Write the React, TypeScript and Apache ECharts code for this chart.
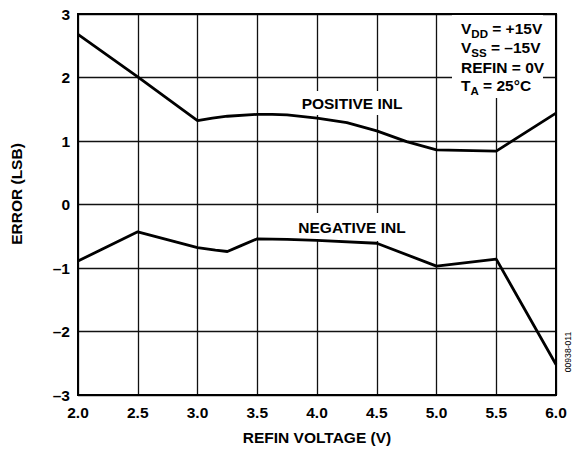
import React, { useEffect, useRef } from "react";
import * as echarts from "echarts";

const FONT = "Arial, 'Liberation Sans', Helvetica, sans-serif";

const xTicks = [2.0, 2.5, 3.0, 3.5, 4.0, 4.5, 5.0, 5.5, 6.0];
const yTicks = [-3, -2, -1, 0, 1, 2, 3];

const positiveX = [2.0, 2.5, 3.0, 3.125, 3.25, 3.5, 3.625, 3.75, 4.0, 4.25, 4.5, 4.75, 5.0, 5.5, 6.0];
const positiveInl = [2.68, 2.01, 1.32, 1.36, 1.39, 1.42, 1.42, 1.41, 1.36, 1.29, 1.16, 0.99, 0.86, 0.84, 1.44];

const negativeX = [2.0, 2.5, 3.0, 3.15, 3.25, 3.35, 3.5, 3.75, 4.0, 4.5, 5.0, 5.5, 6.0];
const negativeInl = [-0.89, -0.43, -0.68, -0.72, -0.74, -0.66, -0.54, -0.55, -0.565, -0.61, -0.97, -0.86, -2.52];

const seriesNames = ["POSITIVE INL", "NEGATIVE INL"];
const conditionLines = [
  ["V", "DD", " = +15V"],
  ["V", "SS", " = \u201315V"],
  ["REFIN = 0V", "", ""],
  ["T", "A", " = 25\u00B0C"],
];

const MAIN_SIZE = 15.5;
const SUB_SIZE = 11.5;

export default function App() {
  const ref = useRef<HTMLDivElement>(null);
  useEffect(() => {
    if (!ref.current) return;
    const chart = echarts.init(ref.current, undefined, { renderer: "svg" });

    const ctx = document.createElement("canvas").getContext("2d");
    const measure = (t: string, size: number) => {
      if (!ctx) return t.length * size * 0.6;
      ctx.font = `bold ${size}px ${FONT}`;
      return ctx.measureText(t).width;
    };

    const legendX = 461;
    const mainMid = [28.7, 47.8, 67.7, 85];
    const subShift = 5.6;
    const legendEls: any[] = [];
    conditionLines.forEach(([a, b, c], i) => {
      let x = legendX;
      const y = mainMid[i];
      const pieces: [string, number, number][] = [
        [a, MAIN_SIZE, 0],
        [b, SUB_SIZE, subShift],
        [c, MAIN_SIZE, 0],
      ];
      pieces.forEach(([t, size, dy]) => {
        if (!t) return;
        legendEls.push({
          type: "text",
          z: 1,
          x,
          y: y + dy,
          style: {
            text: t,
            fontFamily: FONT,
            fontWeight: "bold",
            fontSize: size,
            fill: "#000",
            align: "left",
            verticalAlign: "middle",
          },
        });
        x += measure(t, size);
      });
    });

    chart.setOption({
      animation: false,
      backgroundColor: "#fff",
      grid: {
        left: 78,
        right: 28,
        top: 14,
        bottom: 54,
        show: true,
        borderColor: "#000",
        borderWidth: 2,
        backgroundColor: "transparent",
        z: 3,
      },
      xAxis: {
        type: "value",
        min: 2,
        max: 6,
        interval: 0.5,
        name: "REFIN VOLTAGE (V)",
        nameLocation: "middle",
        nameGap: 42,
        nameTextStyle: {
          fontFamily: FONT,
          fontWeight: "bold",
          fontSize: 15.5,
          color: "#000",
          verticalAlign: "middle",
        },
        axisLine: { show: false },
        axisTick: { show: false },
        axisLabel: {
          margin: 9,
          fontFamily: FONT,
          fontWeight: "bold",
          fontSize: 15.5,
          color: "#000",
          formatter: (v: number) => v.toFixed(1),
        },
        splitLine: { show: true, lineStyle: { color: "#111", width: 1.3 } },
      },
      yAxis: {
        type: "value",
        min: -3,
        max: 3,
        interval: 1,
        axisLine: { show: false },
        axisTick: { show: false },
        axisLabel: {
          margin: 8,
          fontFamily: FONT,
          fontWeight: "bold",
          fontSize: 15.5,
          color: "#000",
          formatter: (v: number) => (v < 0 ? "\u2013" + Math.abs(v) : String(v)),
        },
        splitLine: { show: true, lineStyle: { color: "#111", width: 1.3 } },
      },
      graphic: [
        {
          type: "rect",
          z: 1,
          shape: { x: 452, y: 15, width: 91, height: 83 },
          style: { fill: "#fff" },
        },
        ...legendEls,
        {
          type: "text",
          z: 1,
          x: 352,
          y: 103,
          style: {
            text: seriesNames[0],
            fontFamily: FONT,
            fontWeight: "bold",
            fontSize: 15.5,
            fill: "#000",
            align: "center",
            verticalAlign: "middle",
            backgroundColor: "#fff",
            padding: [4, 3],
          },
        },
        {
          type: "text",
          z: 1,
          x: 352,
          y: 227,
          style: {
            text: seriesNames[1],
            fontFamily: FONT,
            fontWeight: "bold",
            fontSize: 15.5,
            fill: "#000",
            align: "center",
            verticalAlign: "middle",
            backgroundColor: "#fff",
            padding: [6, 3],
          },
        },
        {
          type: "text",
          z: 1,
          x: 16.5,
          y: 194,
          rotation: Math.PI / 2,
          style: {
            text: "ERROR (LSB)",
            fontFamily: FONT,
            fontWeight: "bold",
            fontSize: 15.5,
            fill: "#000",
            align: "center",
            verticalAlign: "middle",
          },
        },
        {
          type: "text",
          z: 1,
          x: 568,
          y: 352,
          rotation: Math.PI / 2,
          style: {
            text: "00938-011",
            fontFamily: FONT,
            fontSize: 8.6,
            fill: "#000",
            align: "center",
            verticalAlign: "middle",
          },
        },
      ],
      series: [
        {
          name: seriesNames[0],
          type: "line",
          z: 5,
          symbol: "none",
          data: positiveX.map((x, i) => [x, positiveInl[i]]),
          lineStyle: { color: "#000", width: 2.8 },
        },
        {
          name: seriesNames[1],
          type: "line",
          z: 5,
          symbol: "none",
          data: negativeX.map((x, i) => [x, negativeInl[i]]),
          lineStyle: { color: "#000", width: 2.8 },
        },
      ],
    });
    return () => chart.dispose();
  }, []);
  return <div ref={ref} style={{ width: 584, height: 450, position: "absolute", left: 0, top: 0 }} />;
}
